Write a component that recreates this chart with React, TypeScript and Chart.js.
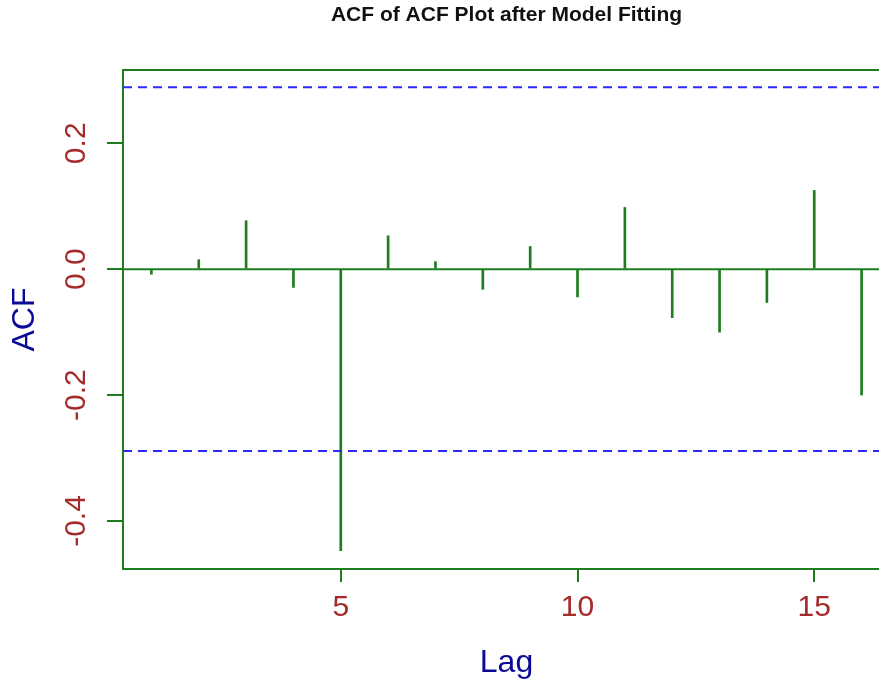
import React, { useEffect, useRef } from "react";
import { Chart, registerables } from "chart.js";

Chart.register(...registerables);

const lags = [1, 2, 3, 4, 5, 6, 7, 8, 9, 10, 11, 12, 13, 14, 15, 16];
const acfValues = [-0.008, 0.015, 0.077, -0.029, -0.447, 0.053, 0.012, -0.032, 0.036, -0.044, 0.098, -0.077, -0.1, -0.053, 0.125, -0.2];
const ciBound = 0.289;
const xTickValues = [5, 10, 15];
const yTickValues = [-0.4, -0.2, 0, 0.2];
const xRange = [0.4, 16.6];
const yRange = [-0.4763, 0.3164];

const GREEN = "#1e7d1e";
const BROWN = "#a52a2a";
const NAVY = "#0a0a96";
const BLUE = "#2a2aff";
const FONT = "'Liberation Sans', Arial, sans-serif";

const topBorder = {
  id: "topBorder",
  afterDraw(chart: any) {
    const { ctx, chartArea } = chart;
    ctx.save();
    ctx.strokeStyle = GREEN;
    ctx.lineWidth = 2;
    ctx.beginPath();
    ctx.moveTo(chartArea.left - 1, chartArea.top);
    ctx.lineTo(chartArea.right + 2, chartArea.top);
    ctx.stroke();
    ctx.restore();
  },
};

export default function App() {
  const ref = useRef<HTMLCanvasElement | null>(null);

  useEffect(() => {
    document.body.style.margin = "0";
    const canvas = ref.current!;
    const chart = new Chart(canvas, {
      type: "bar",
      data: {
        datasets: [
          {
            type: "bar",
            label: "ACF",
            data: lags.map((l, i) => ({ x: l, y: acfValues[i] })),
            backgroundColor: GREEN,
            borderWidth: 0,
            barThickness: 2,
            order: 2,
          } as any,
          {
            type: "line",
            label: "zero",
            data: [
              { x: xRange[0], y: 0 },
              { x: xRange[1], y: 0 },
            ],
            borderColor: GREEN,
            borderWidth: 2,
            pointRadius: 0,
            order: 3,
          } as any,
          {
            type: "line",
            label: "upper",
            data: [
              { x: xRange[0], y: ciBound },
              { x: xRange[1], y: ciBound },
            ],
            borderColor: BLUE,
            borderWidth: 2,
            borderDash: [9, 6],
            pointRadius: 0,
            order: 1,
          } as any,
          {
            type: "line",
            label: "lower",
            data: [
              { x: xRange[0], y: -ciBound },
              { x: xRange[1], y: -ciBound },
            ],
            borderColor: BLUE,
            borderWidth: 2,
            borderDash: [9, 6],
            pointRadius: 0,
            order: 1,
          } as any,
        ],
      },
      options: {
        animation: false,
        responsive: false,
        maintainAspectRatio: false,
        layout: { padding: { left: 0, right: 5, top: 0, bottom: 0 } },
        plugins: {
          legend: { display: false },
          tooltip: { enabled: false },
          title: {
            display: true,
            text: "ACF of ACF Plot after Model Fitting",
            color: "#111",
            fullSize: false,
            font: { family: FONT, size: 21, weight: "bold" },
            padding: { top: 3, bottom: 41.8 },
          },
        },
        scales: {
          x: {
            type: "linear",
            min: xRange[0],
            max: xRange[1],
            offset: false,
            afterBuildTicks: (s: any) => {
              s.ticks = xTickValues.map((v) => ({ value: v }));
            },
            afterFit: (s: any) => {
              s.height = 115;
            },
            grid: {
              display: true,
              drawOnChartArea: false,
              drawTicks: true,
              tickLength: 13,
              color: GREEN,
              lineWidth: 2,
              offset: false,
            },
            border: { display: true, color: GREEN, width: 2 },
            ticks: {
              color: BROWN,
              font: { family: FONT, size: 30 },
              padding: 8,
              maxRotation: 0,
              minRotation: 0,
              callback: (v: any) => String(v),
            },
            title: {
              display: true,
              text: "Lag",
              color: NAVY,
              font: { family: FONT, size: 32 },
              padding: { top: 0, bottom: 2 },
            },
          },
          y: {
            type: "linear",
            min: yRange[0],
            max: yRange[1],
            afterBuildTicks: (s: any) => {
              s.ticks = yTickValues.map((v) => ({ value: v }));
            },
            afterFit: (s: any) => {
              s.width = 123;
            },
            grid: {
              display: true,
              drawOnChartArea: false,
              drawTicks: true,
              tickLength: 16,
              color: GREEN,
              lineWidth: 2,
            },
            border: { display: true, color: GREEN, width: 2 },
            ticks: {
              color: BROWN,
              font: { family: FONT, size: 30 },
              padding: 4,
              minRotation: 90,
              maxRotation: 90,
              crossAlign: "center",
              callback: (v: any) => Number(v).toFixed(1),
            },
            title: {
              display: true,
              text: "ACF",
              color: NAVY,
              font: { family: FONT, size: 32 },
              padding: { top: 6, bottom: 0 },
            },
          },
        },
      },
      plugins: [topBorder],
    } as any);
    return () => chart.destroy();
  }, []);

  return (
    <div style={{ position: "fixed", left: 0, top: 0, width: 879, height: 684, overflow: "hidden", background: "#fff" }}>
      <canvas ref={ref} width={895} height={684} style={{ display: "block" }} />
    </div>
  );
}
